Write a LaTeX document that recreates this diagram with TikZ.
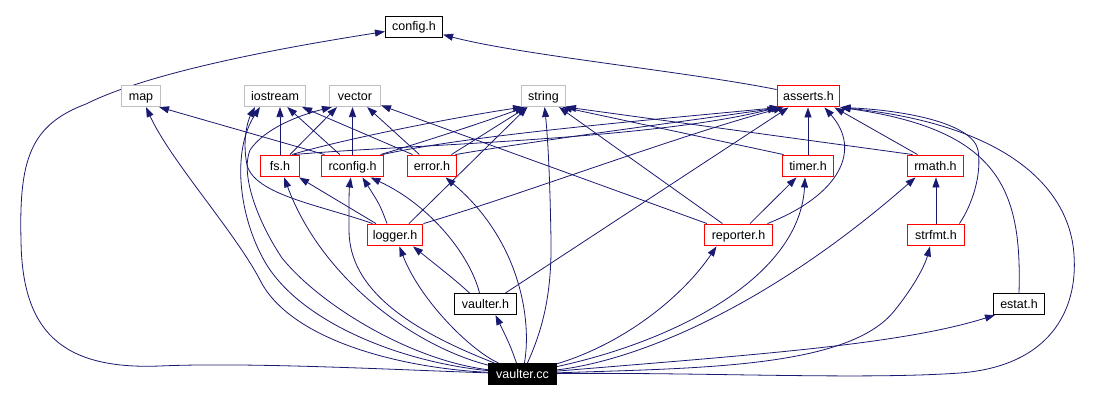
\documentclass[tikz,border=0pt]{standalone}
\usepackage{fontspec}
\setmainfont{Liberation Sans}
\usetikzlibrary{arrows.meta}
\definecolor{edgec}{HTML}{191970}
\definecolor{redc}{HTML}{FF0000}
\definecolor{grayc}{HTML}{BFBFBF}
\pgfdeclarelayer{bg}
\pgfsetlayers{bg,main}
\begin{document}
\begin{tikzpicture}[x=1pt,y=-1pt,
  nd/.style={draw, line width=1.1pt, minimum height=21pt, inner sep=0pt,
    text height=9.5pt, text depth=1.5pt, font=\fontsize{12.5}{14}\selectfont, fill=white},
  blk/.style={nd, draw=black},
  rd/.style={nd, draw=redc, line width=1.9pt},
  gr/.style={nd, draw=grayc},
  rootnd/.style={nd, draw=black, fill=black, text=white},
  e/.style={draw=edgec, line width=0.8pt, -{Triangle[length=10pt,width=7pt]}}
]
\useasboundingbox (0,0) rectangle (1119,412);

% nodes
\node[blk, minimum width=57pt] (CF) at (414,27) {config.h};
\node[gr, minimum width=39pt] (MP) at (141,96) {map};
\node[gr, minimum width=61pt] (IO) at (275,96) {iostream};
\node[gr, minimum width=51pt] (VE) at (355,96) {vector};
\node[gr, minimum width=44pt] (ST) at (543.5,96) {string};
\node[rd, minimum width=62pt] (asrt) at (808.5,96) {asserts.h};
\node[rd, minimum width=39pt] (FS) at (280,166) {fs.h};
\node[rd, minimum width=62pt] (RC) at (352.5,166) {rconfig.h};
\node[rd, minimum width=49pt] (ER) at (432,166) {error.h};
\node[rd, minimum width=51pt] (TI) at (808,166) {timer.h};
\node[rd, minimum width=56pt] (RM) at (935.5,166) {rmath.h};
\node[rd, minimum width=55pt] (LG) at (395,235) {logger.h};
\node[rd, minimum width=68pt] (RP) at (738.5,235) {reporter.h};
\node[rd, minimum width=57pt] (SF) at (936,235) {strfmt.h};
\node[blk, minimum width=62pt] (VH) at (485.5,304) {vaulter.h};
\node[blk, minimum width=51pt] (ES) at (1019,304) {estat.h};
\node[rootnd, minimum width=68pt] (VC) at (522.5,374) {vaulter.cc};

\begin{pgfonlayer}{bg}
% asserts.h -> config.h
\draw[e] (asrt) .. controls (690,72) and (520,55) .. (CF);

% vaulter.cc edges (left side)
\draw[e] (VC) .. controls (400,370) and (250,362) .. (160,366)
  .. controls (60,370) and (22,330) .. (21,240)
  .. controls (19,160) and (30,125) .. (86,104)
  .. controls (150,72) and (280,48) .. (CF);
\draw[e] (VC) .. controls (400,368) and (290,340) .. (260,280)
  .. controls (235,232) and (170,160) .. (MP);
\draw[e] (VC) .. controls (400,362) and (300,322) .. (265,262)
  .. controls (238,215) and (232,150) .. ([xshift=-15]IO.south);
\draw[e] (VC) .. controls (410,360) and (320,305) .. (282,258)
  .. controls (258,222) and (240,175) .. (250,150)
  .. controls (265,128) and (300,115) .. ([xshift=3]VE.south west);
\draw[e] (VC) .. controls (410,345) and (320,275) .. (FS);
\draw[e] (VC) .. controls (410,330) and (349,290) .. (349,230)
  .. controls (349,205) and (349,190) .. (RC);
\draw[e] (VC) .. controls (532,320) and (520,240) .. (ER);
\draw[e] (VC) .. controls (470,350) and (420,300) .. (LG);
\draw[e] (VC) .. controls (540,335) and (552,300) .. (551,240)
  .. controls (550,180) and (548,140) .. (ST);
\draw[e] ([xshift=-6]VC.north) .. controls (510,345) .. ([xshift=10]VH.south);

% vaulter.cc edges (right side)
\draw[e] (VC) .. controls (620,345) and (680,300) .. ([xshift=-22]RP.south);
\draw[e] (VC) .. controls (680,340) and (800,275) .. ([xshift=-3]TI.south);
\draw[e] (VC) .. controls (640,360) and (770,305) .. ([xshift=-20]RM.south);
\draw[e] (VC) .. controls (700,368) and (850,368) .. (895,310)
  .. controls (915,285) and (925,265) .. ([xshift=-6]SF.south);
\draw[e] (VC) .. controls (750,355) and (900,345) .. ([xshift=2]ES.south west);
\draw[e] (VC) .. controls (700,372) and (860,380) .. (960,373)
  .. controls (1050,366) and (1078,310) .. (1074,255)
  .. controls (1070,190) and (1010,125) .. (asrt.south east);

% vaulter.h
\draw[e] ([xshift=-16]VH.north) .. controls (455,280) .. ([xshift=18]LG.south);
\draw[e] ([xshift=-6]VH.north) .. controls (470,255) and (430,205) .. ([xshift=18]RC.south);
\draw[e] ([xshift=20]VH.north) -- ([xshift=-20]asrt.south);

% logger.h
\draw[e] (LG) -- (FS);
\draw[e] ([xshift=-8]LG.north) .. controls (380,205) .. ([xshift=10]RC.south);
\draw[e] ([xshift=14]LG.north) -- ([xshift=-16]ST.south);
\draw[e] (LG.north east) .. controls (520,195) and (680,135) .. ([xshift=7]asrt.south west);
\draw[e] ([xshift=6]LG.north west) .. controls (320,205) and (255,195) .. (247,165)
  .. controls (242,140) and (248,120) .. ([xshift=-20]IO.south);

% fs.h
\draw[e] (FS.north) -- (FS.north |- IO.south);
\draw[e] ([xshift=10]FS.north) -- ([xshift=-18]VE.south);
\draw[e] ([xshift=12]FS.north) .. controls (340,140) and (450,118) .. ([xshift=2]ST.south west);
\draw[e] ([xshift=14]FS.north) .. controls (400,145) and (650,140) .. ([xshift=1]asrt.south west);

% rconfig.h
\draw[e] ([xshift=4]RC.north west) -- ([xshift=-2]MP.south east);
\draw[e] (RC) -- (IO);
\draw[e] (RC.north) -- (RC.north |- VE.south);
\draw[e] ([xshift=-4]RC.north east) .. controls (430,140) and (490,120) .. ([xshift=4]ST.south west);
\draw[e] ([xshift=-2]RC.north east) .. controls (470,135) and (650,120) .. ([xshift=3]asrt.south west);

% error.h
\draw[e] ([xshift=6]ER.north west) -- ([xshift=-4]IO.south east);
\draw[e] (ER) -- (VE);
\draw[e] ([xshift=-6]ER.north east) -- ([xshift=6]ST.south west);
\draw[e] ([xshift=-2]ER.north east) .. controls (540,140) and (680,122) .. ([xshift=5]asrt.south west);

% timer.h
\draw[e] (TI.north) -- (TI.north |- asrt.south);
\draw[e] ([xshift=2]TI.north west) -- ([xshift=-4]ST.south east);

% rmath.h
\draw[e] ([xshift=6]RM.north west) -- (ST.south east);
\draw[e] ([xshift=-18]RM.north) -- ([xshift=-6]asrt.south east);

% strfmt.h
\draw[e] (SF.north) -- (SF.north |- RM.south);
\draw[e] ([xshift=-6]SF.north east) .. controls (972,205) and (982,175) .. (978,150)
  .. controls (972,122) and (900,110) .. (asrt.south east);

% estat.h
\draw[e] (ES.north) .. controls (1022,190) and (1000,130) .. (asrt.south east);

% reporter.h
\draw[e] (RP) -- (VE);
\draw[e] (RP) -- (ST);
\draw[e] (RP) -- (TI);
\draw[e] ([xshift=-6]RP.north east) .. controls (840,195) and (862,150) .. ([xshift=16]asrt.south);
\end{pgfonlayer}
\end{tikzpicture}
\end{document}
